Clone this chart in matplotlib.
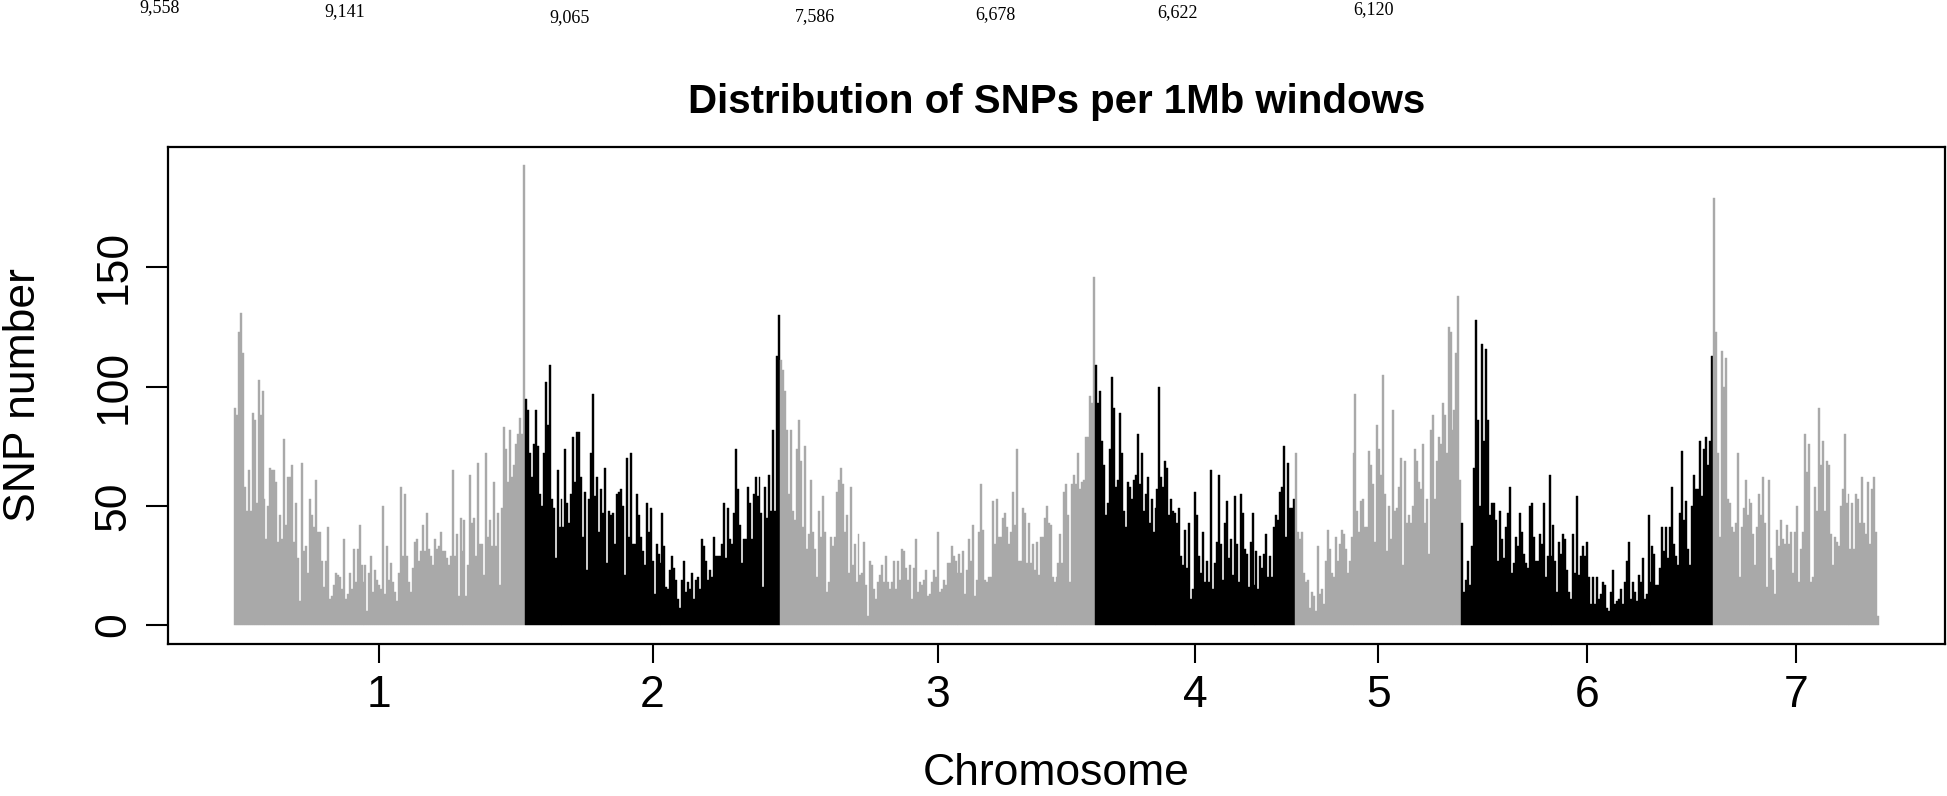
import numpy as np
import matplotlib
matplotlib.use("Agg")
import matplotlib.pyplot as plt

plt.rcParams['font.family'] = ['Liberation Sans', 'DejaVu Sans']

# SNP counts per 1Mb window (one list per chromosome)
chr1 = [91, 88, 123, 131, 114, 58, 48, 65, 48, 89,
        86, 51, 103, 88, 98, 53, 36, 50, 66, 65,
        65, 60, 35, 46, 36, 78, 42, 62, 62, 67,
        35, 51, 28, 10, 68, 31, 33, 22, 53, 46,
        41, 61, 39, 39, 27, 16, 27, 41, 11, 12,
        17, 22, 21, 20, 15, 36, 11, 13, 22, 15,
        32, 18, 32, 42, 25, 18, 25, 6, 22, 29,
        14, 23, 19, 17, 15, 50, 13, 33, 19, 26,
        18, 14, 10, 22, 58, 29, 55, 29, 18, 14,
        24, 35, 36, 27, 31, 42, 31, 47, 32, 29,
        25, 36, 32, 33, 39, 31, 31, 28, 25, 29,
        65, 29, 38, 12, 45, 31, 44, 12, 25, 63,
        43, 45, 29, 68, 34, 34, 21, 72, 37, 44,
        33, 60, 33, 47, 17, 49, 83, 74, 60, 82,
        62, 67, 76, 80, 87, 80, 193]
chr2 = [95, 90, 72, 62, 76, 90, 75, 55, 50, 72,
        102, 84, 109, 53, 49, 28, 65, 41, 53, 41,
        74, 51, 43, 55, 79, 60, 81, 81, 62, 37,
        56, 23, 53, 72, 97, 54, 62, 39, 57, 47,
        66, 26, 48, 46, 47, 34, 55, 56, 57, 50,
        21, 70, 37, 72, 34, 34, 55, 46, 37, 31,
        25, 51, 39, 49, 27, 13, 34, 30, 26, 47,
        33, 16, 15, 23, 29, 24, 19, 11,
        7, 19, 27, 14, 18, 15, 22, 11, 19,
        20, 15, 36, 33, 27, 19, 23, 20, 37, 29,
        29, 29, 34, 51, 28, 49, 36, 34, 47, 74,
        57, 42, 26, 36, 36, 58, 51, 36, 55, 62,
        54, 62, 47, 16, 58, 45, 63, 48, 82, 48,
        113, 130]
chr3 = [111, 107, 98, 82, 55, 82, 48, 44, 74, 86,
        69, 41, 75, 32, 38, 61, 39, 32, 20, 48,
        37, 54, 39, 14, 18, 37, 33, 37, 56, 61,
        66, 59, 39, 46, 22, 58, 25, 34, 18, 38,
        21, 22, 35, 17, 4, 27, 25, 15, 11, 18,
        21, 25, 18, 29, 18, 15, 18, 27, 15, 27,
        19, 32, 31, 24, 19, 25, 11, 24, 36, 14,
        18, 17, 19, 23, 12, 13, 18, 23, 20, 39,
        14, 15, 19, 17, 26, 26, 33, 29, 27, 22,
        30, 22, 31, 13, 23, 36, 27, 42, 12, 19,
        39, 59, 40, 19, 18, 20, 20, 52, 34, 53,
        37, 37, 45, 47, 41, 34, 39, 56, 42, 74,
        27, 27, 49, 47, 26, 43, 26, 34, 23, 35,
        21, 37, 37, 45, 50, 43, 42, 20, 18, 20,
        26, 38, 26, 56, 59, 46, 18, 59, 63, 59,
        72, 57, 60, 61, 79, 79, 96, 93, 146]
chr4 = [109, 93, 98, 77, 67, 46, 51, 74, 104, 91,
        58, 61, 89, 72, 48, 41, 60, 58, 53, 61,
        63, 80, 59, 72, 48, 55, 62, 43, 53, 39,
        49, 57, 100, 62, 58, 69, 66, 46, 53, 48,
        47, 43, 49, 29, 25, 40, 24, 43, 11, 15,
        56, 46, 29, 22, 39, 18, 27, 18, 65, 15,
        26, 35, 63, 34, 19, 43, 52, 28, 36, 21,
        54, 34, 18, 55, 47, 32, 30, 16, 35, 47,
        17, 31, 15, 29, 24, 30, 38, 20, 29, 20,
        41, 46, 44, 56, 58, 75, 37, 68, 49, 49,
        53]
chr5 = [72, 39, 36, 39, 22, 18, 19, 7, 14, 12,
        6, 33, 13, 15, 9, 27, 40, 32, 22, 20,
        37, 27, 34, 40, 38, 32, 22, 27, 37, 72,
        97, 48, 39, 52, 53, 41, 41, 73, 67, 59,
        35, 84, 74, 63, 105, 55, 31, 50, 36, 90,
        48, 49, 58, 70, 25, 69, 43, 46, 43, 50,
        74, 69, 60, 57, 76, 43, 53, 30, 82, 88,
        53, 69, 79, 76, 93, 88, 72, 125, 123, 82,
        90, 114, 138, 61]
chr6 = [43, 14, 19, 27, 17, 33, 66, 128, 86, 50,
        118, 77, 116, 86, 46, 51, 51, 44, 27, 48,
        36, 28, 41, 47, 58, 22, 26, 37, 33, 47,
        39, 30, 26, 24, 50, 51, 37, 27, 27, 38,
        34, 51, 20, 29, 63, 29, 42, 27, 14, 35,
        30, 38, 36, 23, 14, 11, 38, 22, 54, 21,
        29, 33, 29, 35, 20, 9, 20, 9, 20, 11,
        13, 18, 17, 7, 6, 14, 23, 9, 10, 11,
        15, 9, 18, 27, 35, 11, 18, 14, 10, 21,
        18, 28, 11, 13, 46, 18, 33, 30, 17, 17,
        24, 41, 31, 41, 28, 41, 58, 34, 29, 25,
        47, 73, 44, 52, 32, 25, 50, 63, 57, 57,
        77, 54, 74, 79, 67, 77, 113]
chr7 = [179, 123, 72, 37, 115, 100, 112, 53, 51, 41, 39,
        43, 72, 20, 41, 49, 61, 46, 53, 51, 38,
        25, 41, 55, 46, 62, 43, 16, 61, 28, 23,
        13, 40, 33, 44, 36, 34, 42, 34, 39, 22,
        39, 50, 18, 32, 39, 80, 64, 76, 18, 20,
        58, 48, 91, 67, 77, 48, 69, 67, 38, 25,
        37, 35, 33, 50, 57, 80, 51, 55, 32, 51,
        32, 55, 53, 43, 62, 43, 38, 60, 34, 57,
        62, 39, 4]

chromosomes = ["1", "2", "3", "4", "5", "6", "7"]
snp_counts = [chr1, chr2, chr3, chr4, chr5, chr6, chr7]
# per-chromosome totals printed above the panel
totals = ["9,558", "9,141", "9,065", "7,586", "6,678", "6,622", "6,120"]

W, H = 1947, 796
fig = plt.figure(figsize=(W / 100, H / 100), dpi=100)
ax = fig.add_axes([168 / W, 1 - 643.5 / H, 1777 / W, 497 / H])

colors = ['#A9A9A9', '#000000']
start = 0
centers = []
for i, vals in enumerate(snp_counts):
    x = np.arange(start, start + len(vals))
    c = colors[i % 2]
    ax.bar(x, vals, width=1.0, align='edge', color=c, edgecolor=c, linewidth=0.3)
    centers.append(start + len(vals) / 2)
    start += len(vals)

n = start
ymax = max(max(v) for v in snp_counts)
ax.set_xlim(-0.04 * n, n * 1.04)
ax.set_ylim(-0.04 * ymax, ymax * 1.04)

ax.set_yticks([0, 50, 100, 150])
ax.set_xticks(centers)
ax.set_xticklabels(chromosomes)
ax.tick_params(axis='both', direction='out', width=1.5, labelsize=32)
ax.tick_params(axis='y', length=16, pad=8)
ax.tick_params(axis='x', length=14, pad=9)
for lab in ax.get_yticklabels():
    lab.set_rotation(90)
    lab.set_va('center')
for s in ax.spines.values():
    s.set_linewidth(1.6)

cx = (168 + 1945) / 2 / W
fig.text(cx, 1 - 113 / H, "Distribution of SNPs per 1Mb windows",
         ha='center', va='baseline', fontsize=29, fontweight='bold')
fig.text(cx, 2 / H, "Chromosome", ha='center', va='bottom', fontsize=32)
fig.text(24 / W, 1 - 395 / H, "SNP number", rotation=90,
         ha='center', va='center', fontsize=32)

tx = [160, 345, 570, 815, 995, 1177, 1374]
ty = [8, 12, 18, 17, 15, 13, 10]
for lab, px, py in zip(totals, tx, ty):
    fig.text(px / W, 1 - py / H, lab, ha='center', va='center',
             fontsize=13, family=['Liberation Serif', 'DejaVu Serif'])

fig.savefig("out.png", dpi=100)
